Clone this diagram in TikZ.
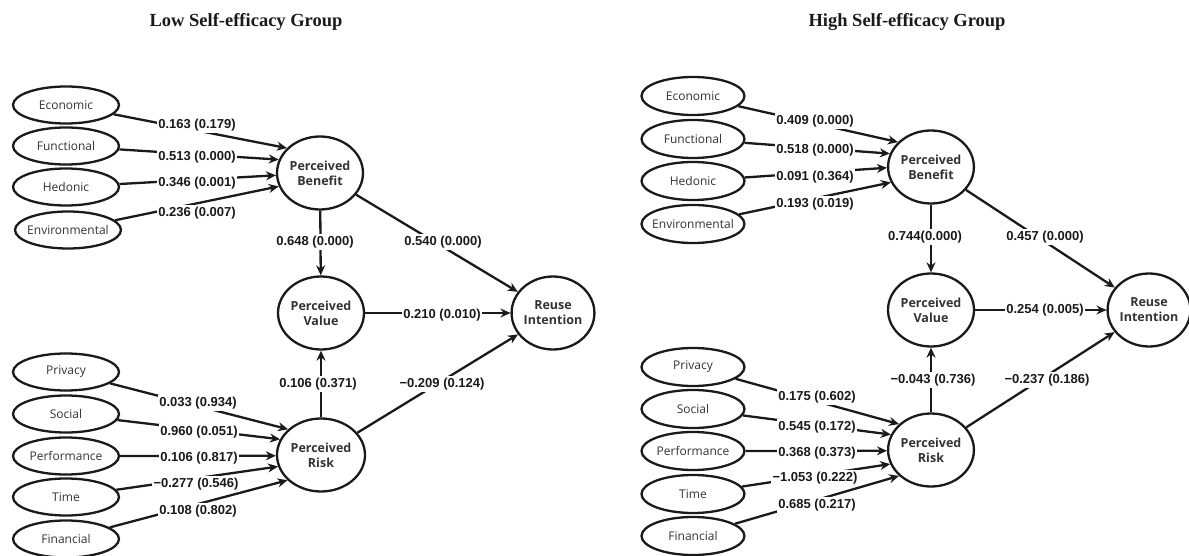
\documentclass[tikz,border=0pt]{standalone}
\usepackage{fontspec}
\setmainfont{Liberation Serif}
\newfontfamily\diagfont{Open Sans}
\newfontfamily\coeffont{Liberation Sans}
\usepackage{tikz}
\usetikzlibrary{arrows.meta, shapes.geometric, positioning}
\definecolor{ink}{HTML}{1A1A1A}
\definecolor{softink}{HTML}{333333}

\begin{document}
\begin{tikzpicture}[
    x=1pt, y=-1pt,
    arr/.style={-{Stealth[length=10pt,width=9pt]}, line width=2.3pt, ink},
    obs/.style={ellipse, draw=ink, line width=2.3pt, fill=white, minimum width=106pt,
                minimum height=37pt, inner ysep=0pt, inner xsep=-14pt, text=softink,
                font=\diagfont\fontsize{12}{14}\selectfont},
    lat/.style={ellipse, draw=ink, line width=2.3pt, fill=white, minimum width=86pt,
                minimum height=73pt, inner sep=0pt, align=center, text=softink,
                font=\diagfont\bfseries\fontsize{12.5}{15}\selectfont},
    coef/.style={fill=white, inner sep=1.5pt, text=ink,
                 font=\coeffont\bfseries\fontsize{13}{15}\selectfont},
    ttl/.style={text=ink, font=\bfseries\fontsize{18.5}{20}\selectfont}
  ]
  \useasboundingbox (0,0) rectangle (1189,556);

  % ---- low self-efficacy group
  \node[ttl] (ltitle) at (246,22) {Low Self-efficacy Group};

  \node[obs] (leco) at (66,105) {Economic};
  \node[obs] (lfun) at (66,146) {Functional};
  \node[obs] (lhed) at (66,187) {Hedonic};
  \node[obs] (lenv) at (68,230) {Environmental};
  \node[obs] (lpri) at (66,372) {Privacy};
  \node[obs] (lsoc) at (66,414) {Social};
  \node[obs] (lper) at (66,456) {Performance};
  \node[obs] (ltim) at (66,497) {Time};
  \node[obs] (lfin) at (66,539) {Financial};

  \node[lat] (lpb) at (320,173) {Perceived\\Benefit};
  \node[lat] (lpv) at (321,313) {Perceived\\Value};
  \node[lat, minimum width=82pt] (lri) at (553,313) {Reuse\\Intention};
  \node[lat, minimum width=88pt] (lpr) at (321,455) {Perceived\\Risk};

  \draw[arr] (leco) -- (lpb.143);
  \draw[arr] (lfun) -- (lpb.162);
  \draw[arr] (lhed) -- (lpb.183);
  \draw[arr] (lenv) -- (lpb.198);
  \draw[arr] (lpri) -- (lpr.142);
  \draw[arr] (lsoc) -- (lpr.159);
  \draw[arr] (lper) -- (lpr.181);
  \draw[arr] (ltim) -- (lpr.195);
  \draw[arr] (lfin) -- (lpr.217);
  \draw[arr] (lpb) -- (lpv);
  \draw[arr] (lpb) -- (lri);
  \draw[arr] (lpv) -- (lri);
  \draw[arr] (lpr) -- (lpv);
  \draw[arr] (lpr) -- (lri);

  \node[coef] (lc1) at (197,125) {0.163 (0.179)};
  \node[coef] (lc2) at (197,157) {0.513 (0.000)};
  \node[coef] (lc3) at (197,183) {0.346 (0.001)};
  \node[coef] (lc4) at (197,213) {0.236 (0.007)};
  \node[coef] (lc5) at (315,242) {0.648 (0.000)};
  \node[coef] (lc6) at (443,242) {0.540 (0.000)};
  \node[coef] (lc7) at (442,315) {0.210 (0.010)};
  \node[coef] (lc8) at (318,384) {0.106 (0.371)};
  \node[coef] (lc9) at (442,384) {−0.209 (0.124)};
  \node[coef] (lc10) at (198,403) {0.033 (0.934)};
  \node[coef] (lc11) at (199,432) {0.960 (0.051)};
  \node[coef] (lc12) at (199,458) {0.106 (0.817)};
  \node[coef] (lc13) at (196,484) {−0.277 (0.546)};
  \node[coef] (lc14) at (198,511) {0.108 (0.802)};

  % ---- high self-efficacy group
  \node[ttl] (htitle) at (907,22) {High Self-efficacy Group};

  \node[obs, minimum width=103pt, minimum height=38pt] (heco) at (693,96) {Economic};
  \node[obs, minimum width=103pt, minimum height=38pt] (hfun) at (693,139) {Functional};
  \node[obs, minimum width=103pt, minimum height=38pt] (hhed) at (693,181) {Hedonic};
  \node[obs, minimum width=103pt, minimum height=38pt] (henv) at (693,224) {Environmental};
  \node[obs, minimum width=103pt, minimum height=38pt] (hpri) at (693,367) {Privacy};
  \node[obs, minimum width=103pt, minimum height=38pt] (hsoc) at (693,409) {Social};
  \node[obs, minimum width=103pt, minimum height=38pt] (hper) at (693,451) {Performance};
  \node[obs, minimum width=103pt, minimum height=38pt] (htim) at (693,494) {Time};
  \node[obs, minimum width=103pt, minimum height=38pt] (hfin) at (693,536) {Financial};

  \node[lat, minimum width=83pt] (hpb) at (931,167) {Perceived\\Benefit};
  \node[lat, minimum width=86pt] (hpv) at (931,310) {Perceived\\Value};
  \node[lat, minimum width=78pt] (hri) at (1149,310) {Reuse\\Intention};
  \node[lat, minimum width=83pt] (hpr) at (931,450) {Perceived\\Risk};

  \draw[arr] (heco) -- (hpb.143);
  \draw[arr] (hfun) -- (hpb.162);
  \draw[arr] (hhed) -- (hpb.181);
  \draw[arr] (henv) -- (hpb.201);
  \draw[arr] (hpri) -- (hpr.141);
  \draw[arr] (hsoc) -- (hpr.159);
  \draw[arr] (hper) -- (hpr.181);
  \draw[arr] (htim) -- (hpr.199);
  \draw[arr] (hfin) -- (hpr.219);
  \draw[arr] (hpb) -- (hpv);
  \draw[arr] (hpb) -- (hri);
  \draw[arr] (hpv) -- (hri);
  \draw[arr] (hpr) -- (hpv);
  \draw[arr] (hpr) -- (hri);

  \node[coef] (hc1) at (815,121) {0.409 (0.000)};
  \node[coef] (hc2) at (815,150) {0.518 (0.000)};
  \node[coef] (hc3) at (815,177) {0.091 (0.364)};
  \node[coef] (hc4) at (815,204) {0.193 (0.019)};
  \node[coef] (hc5) at (925,237) {0.744(0.000)};
  \node[coef] (hc6) at (1045,237) {0.457 (0.000)};
  \node[coef] (hc7) at (1045,310) {0.254 (0.005)};
  \node[coef] (hc8) at (933,380) {−0.043 (0.736)};
  \node[coef] (hc9) at (1047,380) {−0.237 (0.186)};
  \node[coef] (hc10) at (817,397) {0.175 (0.602)};
  \node[coef] (hc11) at (817,427) {0.545 (0.172)};
  \node[coef] (hc12) at (817,453) {0.368 (0.373)};
  \node[coef] (hc13) at (815,478) {−1.053 (0.222)};
  \node[coef] (hc14) at (817,505) {0.685 (0.217)};

\end{tikzpicture}
\end{document}
